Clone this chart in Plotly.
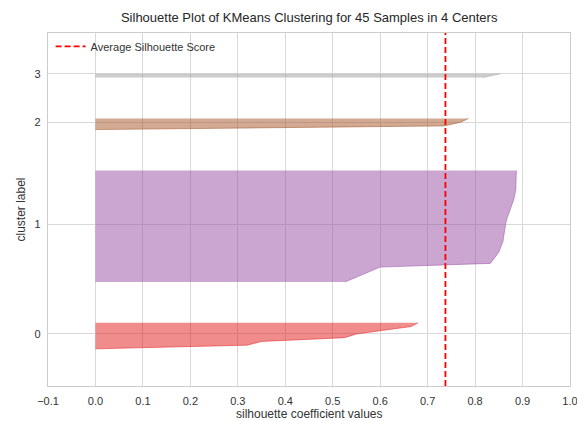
import numpy as np
import plotly.graph_objects as go

# ---- data ----
cluster_labels = ["0", "1", "2", "3"]
cluster0_values = [0.0, 0.32, 0.35, 0.525, 0.55, 0.61, 0.665, 0.68]
cluster1_values = [0.526, 0.545, 0.565, 0.585, 0.600, 0.832, 0.838, 0.843, 0.850,
                   0.853, 0.856, 0.859, 0.860, 0.861, 0.862, 0.863, 0.865, 0.867,
                   0.870, 0.873, 0.876, 0.879, 0.881, 0.883, 0.885, 0.886, 0.886,
                   0.886, 0.887, 0.887, 0.887]
cluster2_values = [0.0, 0.735, 0.77, 0.786]
cluster3_values = [0.815, 0.853]
avg_score = 0.7375
cluster_colors = ["#e41a1c", "#984ea3", "#a65628", "#999999"]
x_ticks = [-0.1, 0.0, 0.1, 0.2, 0.3, 0.4, 0.5, 0.6, 0.7, 0.8, 0.9, 1.0]

all_values = [cluster0_values, cluster1_values, cluster2_values, cluster3_values]


def rgba(hex_color, a):
    h = hex_color.lstrip("#")
    r, g, b = int(h[0:2], 16), int(h[2:4], 16), int(h[4:6], 16)
    return f"rgba({r},{g},{b},{a})"


fig = go.Figure()
y_lower = 10
tick_pos = []
for idx, vals in enumerate(all_values):
    vals = sorted(vals)
    size = len(vals)
    y_upper = y_lower + size
    ys = np.arange(y_lower, y_upper)
    col = cluster_colors[idx]
    fig.add_trace(go.Scatter(
        x=vals, y=ys, mode="lines", fill="tozerox",
        fillcolor=rgba(col, 0.5), line=dict(color=rgba(col, 0.5), width=1),
        showlegend=False, hoverinfo="skip"))
    tick_pos.append(y_lower + 0.5 * size)
    y_lower = y_upper + 10

y_max = y_lower

fig.add_trace(go.Scatter(
    x=[avg_score, avg_score], y=[0, y_max], mode="lines",
    line=dict(color="#ff0000", width=1.8, dash="6px,3px"),
    name="Average Silhouette Score", showlegend=True))

axis_font = dict(family="Liberation Sans, Arial, sans-serif", size=11, color="#333333")

# the page body has an 8px default margin, so the figure is sized to fit inside
fig.update_layout(
    width=577, height=413,
    margin=dict(l=40, r=15, t=25, b=35, autoexpand=False),
    paper_bgcolor="white", plot_bgcolor="white",
    font=dict(family="Liberation Sans, Arial, sans-serif", color="#333333"),
    title=dict(text="Silhouette Plot of KMeans Clustering for 45 Samples in 4 Centers",
               x=0.522, xanchor="center", y=0.976, yanchor="middle",
               font=dict(size=13, color="#262626")),
    legend=dict(x=0.005, y=1.003, xanchor="left", yanchor="top",
                bgcolor="rgba(255,255,255,0)", borderwidth=0,
                font=dict(size=11, color="#333333")),
    xaxis=dict(range=[-0.1, 1.0], tickvals=x_ticks, automargin=False,
               ticktext=[f"{v:.1f}".replace("-", "\u2212") for v in x_ticks],
               showgrid=True, gridcolor="#d9d9d9", gridwidth=1,
               zeroline=False, showline=True, linecolor="#cccccc", linewidth=1.3,
               mirror=True, ticks="", tickfont=axis_font, ticklabelstandoff=5),
    yaxis=dict(range=[0, y_max], tickvals=tick_pos, ticktext=cluster_labels,
               automargin=False,
               showgrid=True, gridcolor="#d9d9d9", gridwidth=1,
               zeroline=False, showline=True, linecolor="#cccccc", linewidth=1.3,
               mirror=True, ticks="", tickfont=axis_font, ticklabelstandoff=4,
               title=dict(text="cluster label", standoff=6,
                          font=dict(size=12, color="#333333"))),
)

fig.add_annotation(text="silhouette coefficient values", xref="paper", yref="paper",
                   x=0.5, y=0, yshift=-28, xanchor="center", yanchor="middle",
                   showarrow=False, font=dict(size=12, color="#333333"))

fig.write_html("out.html")
